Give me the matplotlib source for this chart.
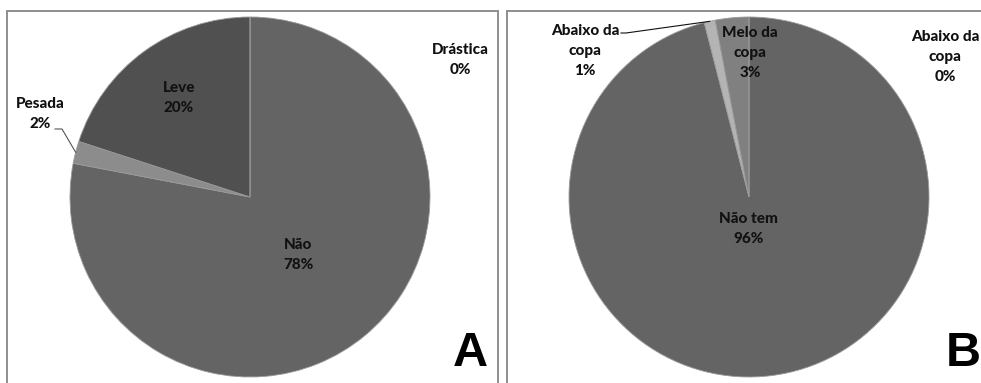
import numpy as np
import matplotlib.pyplot as plt
from matplotlib.patches import Rectangle

# panel A - pruning intensity
labels_a = ["Não", "Pesada", "Leve", "Drástica"]
values_a = [78, 2, 20, 0]
colors_a = ["#646464", "#8c8c8c", "#505050", "#707070"]

# panel B - pruning position
labels_b = ["Não tem", "Abaixo da\ncopa", "Melo da\ncopa", "Abaixo da\ncopa"]
values_b = [96, 1, 3, 0]
colors_b = ["#646464", "#b4b4b4", "#808080", "#707070"]

W, H = 981, 383
fig = plt.figure(figsize=(W / 100, H / 100), dpi=100)
ax = fig.add_axes([0, 0, 1, 1])

lbl_font = dict(family="Lato", fontweight="black", fontsize=11, color="#111111",
                ha="center", va="center", linespacing=1.55)


def pie(values, colors, cx, cy, r):
    wedges, _ = ax.pie(values, colors=colors, startangle=90, counterclock=False,
                       center=(cx, H - cy), radius=r,
                       wedgeprops=dict(edgecolor="#9a9a9a", linewidth=0.6))
    return wedges


def edge_point(w, cx, cy, r):
    ang = np.deg2rad((w.theta1 + w.theta2) / 2)
    return cx + r * np.cos(ang), H - cy + r * np.sin(ang)


def label(text, x, y):
    ax.text(x, H - y, text, **lbl_font)


# frames around the two panels
for x0, x1 in [(7, 498), (507, 990)]:
    ax.add_patch(Rectangle((x0, -10), x1 - x0, H - 11 + 10, fill=False,
                           edgecolor="#8e8e8e", linewidth=1.4))

# ---- A ----
ca = (250, 197, 180)
wa = pie(values_a, colors_a, *ca)
pos_a = [(298, 255), (40, 114), (179, 98), (460, 60)]
for name, v, (x, y) in zip(labels_a, values_a, pos_a):
    label(f"{name}\n{v}%", x, y)
px, py = edge_point(wa[1], *ca)
ax.plot([55, 62, px], [H - 129, H - 129, py], color="#555555", lw=0.8)
ax.text(470, H - 354, "A", family="Liberation Sans", fontweight="bold",
        fontsize=35, ha="center", va="center", color="black")

# ---- B ----
cb = (749, 197, 180)
wb = pie(values_b, colors_b, *cb)
pos_b = [(585, 51), (750, 53), (945, 57)]
label(f"{labels_b[0]}\n{values_b[0]}%", 748, 229)
for name, v, (x, y) in zip(labels_b[1:], values_b[1:], pos_b):
    label(f"{name}\n{v}%", x, y)
qx, qy = edge_point(wb[1], *cb)
ax.plot([621, 626, qx], [H - 33, H - 33, qy], color="#111111", lw=0.8)
ax.text(963, H - 354, "B", family="Liberation Sans", fontweight="bold",
        fontsize=35, ha="center", va="center", color="black")

ax.set_xlim(0, W)
ax.set_ylim(0, H)
ax.set_aspect("auto")
ax.axis("off")

fig.savefig("out.png", dpi=100)
